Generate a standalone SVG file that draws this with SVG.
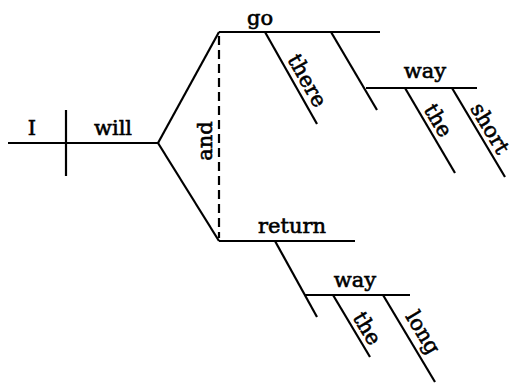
<svg xmlns="http://www.w3.org/2000/svg" width="513" height="383" viewBox="0 0 513 383">
<style>
text{font-family:"DejaVu Serif","Liberation Serif",serif;font-size:21px;fill:#000;stroke:#000;stroke-width:0.6;text-anchor:middle}
line{stroke:#000;stroke-width:2.2;stroke-linecap:butt}
.d{stroke-dasharray:9 5}
</style>
<rect width="513" height="383" fill="#fff"/>
<g id="connectors">
<line x1="8" y1="143" x2="158" y2="143"/>
<line x1="66" y1="110" x2="66" y2="176"/>
<line x1="158" y1="143" x2="219" y2="32"/>
<line x1="158" y1="143" x2="219" y2="241"/>
<line class="d" x1="219" y1="36" x2="219" y2="238"/>
<line x1="219" y1="32" x2="380" y2="32"/>
<line x1="265" y1="32" x2="317" y2="124"/>
<line x1="331" y1="32" x2="377" y2="110"/>
<line x1="366" y1="88" x2="477" y2="88"/>
<line x1="405" y1="88" x2="455" y2="173"/>
<line x1="452" y1="88" x2="505" y2="177"/>
<line x1="219" y1="241" x2="355" y2="241"/>
<line x1="275" y1="241" x2="317" y2="317"/>
<line x1="305" y1="295" x2="410" y2="295"/>
<line x1="333" y1="295" x2="370" y2="357"/>
<line x1="383" y1="295" x2="435" y2="382"/>
</g>
<g id="n-I"><text x="32" y="135">I</text></g>
<g id="n-will"><text x="113" y="135">will</text></g>
<g id="n-and"><text transform="translate(212,141) rotate(-90)">and</text></g>
<g id="n-go"><text x="260" y="25">go</text></g>
<g id="n-there"><text transform="translate(301,84) rotate(60.5)">there</text></g>
<g id="n-way1"><text x="425" y="78">way</text></g>
<g id="n-the1"><text transform="translate(432,124) rotate(59.5)">the</text></g>
<g id="n-short"><text transform="translate(484,132) rotate(59.2)">short</text></g>
<g id="n-return"><text x="292" y="233">return</text></g>
<g id="n-way2"><text x="355" y="287">way</text></g>
<g id="n-the2"><text transform="translate(361,332) rotate(59.2)">the</text></g>
<g id="n-long"><text transform="translate(417,336) rotate(59.1)">long</text></g>
</svg>
